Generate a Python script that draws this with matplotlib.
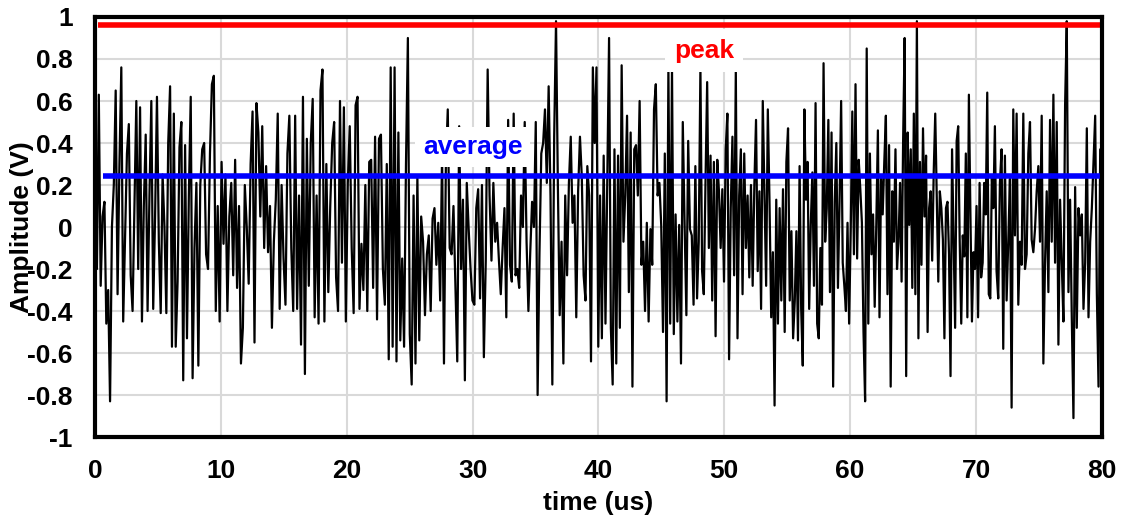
import numpy as np
import matplotlib.pyplot as plt

# amplitude samples (V) left to right, split in chunks of ~8 us
seg_01 = [0.30, -0.20, 0.63, -0.28, 0.05, 0.12, -0.46, -0.30, -0.83, 0.0, 0.20, 0.65, -0.32, 0.30, 0.76,
          -0.45, -0.05, 0.35, 0.49, -0.23, -0.40, 0.10, 0.60, -0.20, 0.57, -0.45, 0.10, 0.44, -0.40, 0.15,
          0.60, -0.39, 0.05, 0.62, -0.07, -0.41, 0.25, 0.0, -0.41, 0.40, 0.67, -0.57, 0.54, -0.57, -0.26,
          0.38, 0.50, -0.73, 0.39, -0.53, 0.15, 0.62, -0.72]
seg_02 = [-0.10, 0.21, -0.66, 0.20, 0.37, 0.40, -0.13, -0.20, 0.35, 0.68, 0.72, -0.40, 0.10, -0.45, 0.31,
          -0.08, 0.25, -0.40, 0.05, 0.21, -0.23, 0.32, -0.29, 0.10, -0.65, -0.48, 0.20, 0.0, -0.27, 0.30,
          0.55, -0.55, 0.59, 0.45, 0.05, 0.48, -0.10, 0.29, -0.12, 0.10, -0.48, -0.07, 0.13, 0.54, -0.39,
          0.20, -0.15, -0.37, 0.35, 0.53, -0.10, -0.40]
seg_03 = [0.53, -0.39, 0.15, -0.56, 0.62, -0.70, 0.42, -0.28, 0.40, 0.61, -0.43, 0.15, -0.46, 0.65, 0.75,
          -0.45, 0.30, -0.31, 0.10, 0.40, 0.50, -0.24, -0.40, 0.60, -0.17, 0.57, -0.45, 0.21, 0.48, -0.10,
          -0.41, 0.58, 0.62, -0.39, -0.08, -0.30, 0.20, -0.40, 0.31, 0.32, -0.29, 0.43, -0.44, 0.42, 0.44,
          -0.20, -0.37, 0.30, -0.63, 0.76, -0.57]
seg_04 = [0.76, -0.64, 0.45, -0.54, -0.15, -0.57, 0.30, 0.90, -0.51, -0.75, 0.15, -0.65, 0.24, -0.54, 0.05,
          -0.07, -0.42, -0.13, -0.04, -0.40, 0.04, 0.09, -0.18, 0.02, -0.35, 0.35, -0.65, 0.30, 0.56, -0.10,
          -0.13, 0.10, -0.26, -0.64, 0.48, -0.20, 0.13, -0.73, 0.21, -0.01, -0.20, -0.35, -0.37, 0.09, 0.18,
          -0.34, 0.20, -0.62, -0.16, 0.75, 0.15, -0.16, 0.21]
seg_05 = [-0.07, 0.02, -0.16, -0.32, -0.10, 0.09, -0.43, 0.51, -0.18, -0.26, 0.54, -0.23, -0.20, -0.29, 0.15,
          0.0, 0.50, -0.07, -0.40, -0.12, 0.12, 0.0, 0.50, -0.80, -0.13, 0.35, 0.40, 0.56, 0.21, 0.67,
          0.15, -0.75, 0.43, 0.98, 0.20, -0.42, -0.07, -0.65, 0.15, -0.23, 0.21, 0.43, 0.02, 0.15, -0.43,
          0.17, 0.43, 0.24, -0.23, -0.35, 0.29, 0.15, -0.64, 0.76]
seg_06 = [0.40, 0.76, -0.57, 0.15, -0.53, 0.34, -0.46, 0.24, 0.90, -0.48, -0.75, 0.37, -0.65, 0.34, -0.48,
          0.77, -0.07, 0.15, 0.53, -0.31, 0.45, -0.76, 0.37, 0.39, 0.15, 0.60, -0.18, -0.07, -0.40, 0.02,
          -0.45, -0.01, -0.18, 0.56, 0.68, 0.15, 0.21, 0.01, -0.50, 0.35, -0.83, 0.76, -0.46, 0.76, -0.51,
          0.06, -0.45, 0.01, -0.65, 0.50, 0.02, -0.42, 0.41, -0.01, -0.04, -0.37]
seg_07 = [0.29, -0.34, -0.07, 0.76, -0.21, -0.32, 0.21, 0.69, -0.10, 0.34, -0.35, 0.31, -0.52, 0.32, 0.17,
          -0.10, 0.18, -0.26, 0.37, 0.54, -0.63, 0.09, 0.43, -0.23, 0.75, -0.53, 0.15, 0.37, -0.32, 0.35,
          -0.10, 0.15, -0.24, 0.20, -0.28, 0.20, 0.51, -0.21, 0.17, -0.39, 0.60, 0.17, -0.28, 0.56, 0.12,
          -0.43, -0.12, -0.85, 0.13, -0.46, 0.09, -0.35, 0.18, -0.50, 0.31, 0.47, -0.35, -0.02, -0.53]
seg_08 = [-0.35, -0.02, -0.54, 0.29, -0.39, -0.66, 0.56, 0.13, 0.31, -0.39, 0.01, 0.26, -0.28, 0.59, -0.46,
          -0.53, -0.10, -0.37, 0.78, -0.07, 0.09, 0.51, -0.31, 0.45, -0.76, 0.12, 0.40, -0.29, 0.12, 0.60,
          -0.17, -0.28, -0.40, 0.02, -0.46, -0.02, 0.55, -0.13, 0.68, -0.15, 0.32, 0.18, 0.02, -0.50, -0.83,
          0.85, -0.46, 0.35, -0.13, 0.06, -0.38, 0.01, 0.46, -0.43, 0.24, 0.06, 0.31, 0.53, -0.32, 0.39,
          -0.76, 0.17, -0.07]
seg_09 = [0.37, -0.20, -0.07, 0.21, -0.26, 0.41, 0.90, -0.71, 0.45, 0.01, 0.37, -0.29, 0.54, -0.32, 0.98,
          -0.53, 0.31, -0.18, 0.47, 0.05, 0.34, -0.50, 0.09, 0.17, -0.16, 0.26, 0.54, 0.15, -0.26, 0.17,
          0.09, -0.06, -0.53, 0.09, 0.12, -0.13, -0.71, 0.37, -0.07, -0.48, 0.41, 0.48, -0.07, -0.46, -0.04,
          -0.14, 0.35, -0.43, 0.63, 0.06, -0.45, -0.12, -0.20, 0.10, -0.43, 0.21, -0.24, -0.17, 0.21, 0.06,
          0.64, -0.32, -0.34, 0.24, 0.09]
seg_10 = [0.48, -0.21, -0.34, 0.21, 0.37, -0.58, 0.34, -0.35, -0.07, 0.23, -0.86, 0.56, -0.04, 0.54, -0.37,
          -0.07, -0.18, 0.54, -0.20, -0.13, 0.35, 0.50, -0.06, -0.12, -0.01, 0.17, 0.29, -0.07, 0.53, -0.65,
          -0.17, 0.17, -0.31, 0.51, -0.07, 0.63, -0.17, 0.50, -0.56, 0.13, -0.17, -0.45, 0.58, 0.98, -0.31,
          0.13, -0.43, -0.91, 0.19, -0.48, 0.09, -0.04, 0.06, -0.39, -0.17, 0.47, -0.43, -0.07, 0.09, 0.31,
          0.53, -0.32, -0.76, 0.37, -0.35]
segments = [seg_01, seg_02, seg_03, seg_04, seg_05, seg_06, seg_07, seg_08, seg_09, seg_10]
# time (us) where each chunk starts / ends
seg_edges_us = [0, 7.9, 15.9, 23.8, 31.8, 39.7, 47.7, 55.6, 63.6, 71.5, 80]

peak_level = 0.96
average_level = 0.245
x_ticks = [0, 10, 20, 30, 40, 50, 60, 70, 80]
y_ticks = [-1, -0.8, -0.6, -0.4, -0.2, 0, 0.2, 0.4, 0.6, 0.8, 1]
y_tick_labels = ["-1", "-0.8", "-0.6", "-0.4", "-0.2", "0", "0.2", "0.4", "0.6", "0.8", "1"]

amplitude = np.concatenate([np.array(s) for s in segments])
time_us = []
for i, s in enumerate(segments):
    last = i == len(segments) - 1
    time_us.append(np.linspace(seg_edges_us[i], seg_edges_us[i + 1], len(s), endpoint=last))
time_us = np.concatenate(time_us)

plt.rcParams["font.family"] = ["Liberation Sans", "DejaVu Sans"]
plt.rcParams["font.weight"] = "bold"

fig = plt.figure(figsize=(11.37, 5.23), dpi=100)
ax = fig.add_axes([0.0836, 0.1644, 0.8855, 0.8031])

ax.plot(time_us, amplitude, color="black", linewidth=1.6, zorder=2)
ax.plot([0.2, 80], [peak_level, peak_level], color="red", linewidth=4, zorder=3, solid_capstyle="butt")
ax.plot([0.6, 80], [average_level, average_level], color="blue", linewidth=4, zorder=3, solid_capstyle="butt")

ax.text(48.4, 0.84, "peak", color="red", fontsize=19, fontweight="bold", ha="center", va="center", zorder=4,
        bbox=dict(facecolor="white", edgecolor="none", boxstyle="square,pad=0.35"))
ax.text(30.0, 0.38, "average", color="blue", fontsize=19, fontweight="bold", ha="center", va="center", zorder=4,
        bbox=dict(facecolor="white", edgecolor="none", boxstyle="square,pad=0.3"))

ax.set_xlim(0, 80)
ax.set_ylim(-1, 1)
ax.set_xticks(x_ticks)
ax.set_yticks(y_ticks)
ax.set_yticklabels(y_tick_labels)
ax.grid(True, color="#d9d9d9", linewidth=1.5, zorder=0)
ax.set_axisbelow(True)
ax.tick_params(axis="both", length=0, labelsize=19)
ax.tick_params(axis="y", pad=16)
ax.tick_params(axis="x", pad=16)
for s in ax.spines.values():
    s.set_linewidth(3)
    s.set_zorder(5)

ax.set_xlabel("time (us)", fontsize=19, fontweight="bold")
ax.set_ylabel("Amplitude (V)", fontsize=19, fontweight="bold")
ax.xaxis.set_label_coords(0.5, -0.128)
ax.yaxis.set_label_coords(-0.061, 0.5)

fig.savefig("out.png", dpi=100)
